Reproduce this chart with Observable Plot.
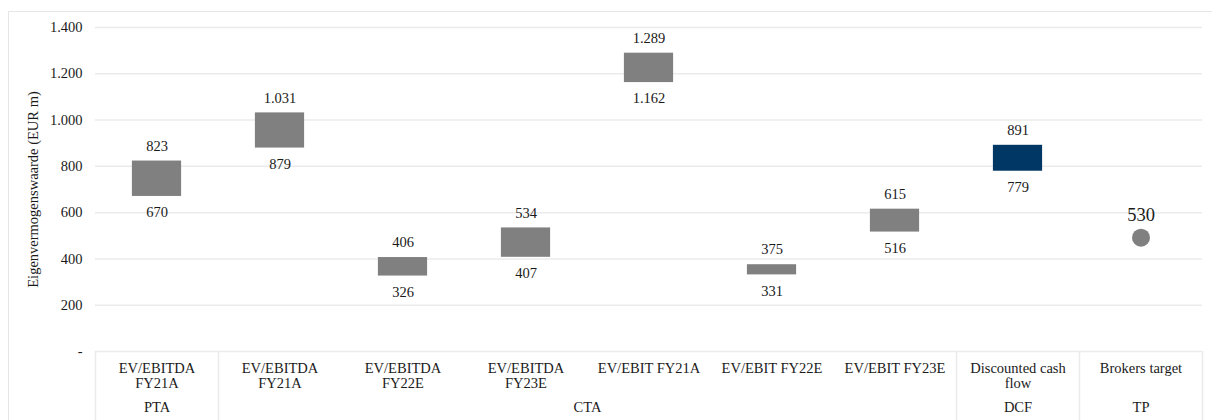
<!DOCTYPE html>
<html>
<head>
<meta charset="utf-8">
<script src="https://cdn.jsdelivr.net/npm/d3@7"></script>
<script src="https://cdn.jsdelivr.net/npm/@observablehq/plot@0.6"></script>
<style>
  html, body { margin: 0; padding: 0; background: #fff; }
  #chart { position: relative; width: 1212px; height: 420px; }
  #chart svg, #chart svg text { font-family: "Liberation Serif", "Times New Roman", serif; }
  #frame { position: absolute; left: 8px; top: 11px; width: 1220px; height: 420px; border: 1px solid #e6e6e6; box-sizing: border-box; pointer-events: none; }
</style>
</head>
<body>
<div id="chart"><div id="frame"></div></div>
<script>
const categories = ["EV/EBITDA\nFY21A", "EV/EBITDA\nFY21A", "EV/EBITDA\nFY22E", "EV/EBITDA\nFY23E", "EV/EBIT FY21A", "EV/EBIT FY22E", "EV/EBIT FY23E", "Discounted cash\nflow", "Brokers target"];
const lows  = [670, 879, 326, 407, 1162, 331, 516, 779, null];
const highs = [823, 1031, 406, 534, 1289, 375, 615, 891, null];
const barColors = ["#808080", "#808080", "#808080", "#808080", "#808080", "#808080", "#808080", "#003764", null];
const groups = ["PTA", "CTA", "DCF", "TP"];
const groupStart = [0, 1, 7, 8];
const groupEnd = [1, 7, 8, 9];
const targetPosition = 492;
const targetLabel = "530";
const yTicks = [0, 200, 400, 600, 800, 1000, 1200, 1400];

const bars = categories.map((c, i) => ({i, low: lows[i], high: highs[i], color: barColors[i]})).filter(d => d.low != null);
const groupRows = groups.map((g, k) => ({g, s: groupStart[k], e: groupEnd[k]}));
const bounds = [0, ...groupEnd];
const fmt = v => v === 0 ? "-" : d3.format(",")(v).replace(/,/g, ".");
const font = "'Liberation Serif', 'Times New Roman', serif";
const fs = 14.5;
const ink = "#1a1a1a";

const chart = Plot.plot({
  width: 1212,
  height: 420,
  marginLeft: 95,
  marginRight: 10,
  marginTop: 27,
  marginBottom: 69,
  style: {fontFamily: font, fontSize: fs + "px", color: ink, background: "transparent"},
  x: {type: "linear", domain: [0, 9], axis: null},
  y: {domain: [0, 1400], axis: null},
  marks: [
    Plot.ruleY(yTicks, {stroke: "#ebebeb", strokeWidth: 1.5}),
    Plot.axisY(yTicks, {tickSize: 0, tickPadding: 13, tickFormat: fmt, fontSize: fs, fill: ink, label: "Eigenvermogenswaarde (EUR m)", labelAnchor: "center", labelArrow: "none", labelOffset: 68}),
    Plot.axisX(categories.map((c, i) => i + 0.5), {anchor: "bottom", tickSize: 0, tickPadding: 11, lineHeight: 1.04, fontSize: fs, fill: ink, tickFormat: (d) => categories[Math.round(d - 0.5)], label: null}),
    Plot.ruleX(bounds, {x: d => d, y1: 0, y2: 0, insetBottom: -69, stroke: "#ebebeb", strokeWidth: 1.5}),
    Plot.text(groupRows, {x: d => (d.s + d.e) / 2, text: "g", frameAnchor: "bottom", dy: 60, fontSize: fs, fill: ink}),
    Plot.rect(bars, {x1: d => d.i + 0.3, x2: d => d.i + 0.7, y1: "low", y2: "high", fill: "color"}),
    Plot.text(bars, {x: d => d.i + 0.5, y: "high", text: d => fmt(d.high), dy: -15, fontSize: fs, fill: ink}),
    Plot.text(bars, {x: d => d.i + 0.5, y: "low", text: d => fmt(d.low), dy: 16, fontSize: fs, fill: ink}),
    Plot.dot([{i: 8, v: targetPosition}], {x: d => d.i + 0.5, y: "v", r: 9, fill: "#808080", stroke: "none"}),
    Plot.text([{i: 8, v: targetPosition}], {x: d => d.i + 0.5, y: "v", text: () => targetLabel, dy: -23, fontSize: 18.5, fill: ink})
  ]
});
document.getElementById("chart").appendChild(chart);
</script>
</body>
</html>
